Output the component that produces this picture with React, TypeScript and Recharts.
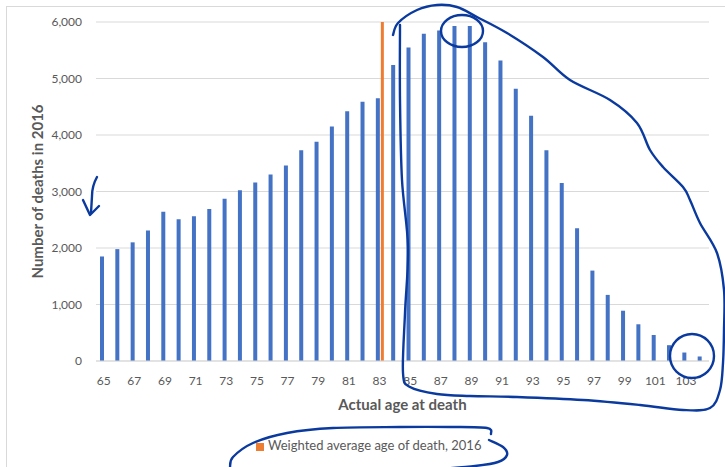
import { Bar, BarChart, CartesianGrid, Legend, XAxis, YAxis } from 'recharts'

// ages 65..104 at death, single-year bins
const ages = [
  65, 66, 67, 68, 69, 70, 71, 72, 73, 74, 75, 76, 77, 78, 79, 80, 81, 82, 83, 84,
  85, 86, 87, 88, 89, 90, 91, 92, 93, 94, 95, 96, 97, 98, 99, 100, 101, 102, 103, 104,
]
const deaths = [
  1850, 1980, 2100, 2310, 2640, 2510, 2560, 2690, 2870, 3020, 3160, 3300, 3460, 3730, 3880, 4150,
  4420, 4590, 4650, 5240, 5550, 5790, 5850, 5930, 5930, 5640, 5320, 4820, 4340, 3730, 3150, 2350,
  1600, 1170, 890, 650, 460, 280, 150, 80,
]
// weighted average marker: drawn as a full-height bar in its age bin
const avgAge = 83
const avgMarker = 6000
const yTicks = [0, 1000, 2000, 3000, 4000, 5000, 6000]

const data = ages.map((age, i) => ({
  age,
  deaths: deaths[i],
  avg: age === avgAge ? avgMarker : null,
}))

const GREY = '#595959'
const PEN = '#0b3a9e'
const FONT = 'Lato, "Open Sans", sans-serif'

// hand-drawn pen marks on top of the screenshot
const loopPts = [
  [393, 35], [398, 23], [417, 10], [437, 5], [457, 7], [477, 17], [507, 33], [543, 57], [570, 80],
  [610, 100], [637, 123], [650, 150], [663, 167], [683, 187], [690, 200], [700, 223], [717, 253],
  [724, 290], [724, 330], [723, 363], [720, 390], [710, 408], [683, 410], [640, 405], [583, 400],
  [517, 397], [470, 396], [437, 394], [410, 387], [403, 373], [405, 313], [408, 247], [402, 180],
  [400, 100], [400, 25],
]
const legendTop = [
  [230, 467], [233, 457], [253, 443], [287, 433], [333, 428], [400, 427], [450, 427], [487, 428], [491, 434],
]
const legendBottom = [[489, 440], [503, 447], [507, 455], [498, 462], [475, 466], [440, 469]]

function smooth(pts: number[][]) {
  let d = `M${pts[0][0]},${pts[0][1]}`
  for (let i = 0; i < pts.length - 1; i++) {
    const p0 = pts[i - 1] || pts[i]
    const p1 = pts[i]
    const p2 = pts[i + 1]
    const p3 = pts[i + 2] || p2
    const c1x = p1[0] + (p2[0] - p0[0]) / 6
    const c1y = p1[1] + (p2[1] - p0[1]) / 6
    const c2x = p2[0] - (p3[0] - p1[0]) / 6
    const c2y = p2[1] - (p3[1] - p1[1]) / 6
    d += ` C${c1x},${c1y} ${c2x},${c2y} ${p2[0]},${p2[1]}`
  }
  return d
}

function PenMarks() {
  const s = { fill: 'none', stroke: PEN, strokeWidth: 2.4, strokeLinecap: 'round' as const, strokeLinejoin: 'round' as const }
  return (
    <svg width={725} height={467} style={{ position: 'absolute', left: 0, top: 0, pointerEvents: 'none' }}>
      <path d={smooth(loopPts)} {...s} />
      <ellipse cx={462} cy={31} rx={21} ry={16} {...s} />
      <ellipse cx={692} cy={356} rx={22} ry={22} {...s} />
      <path d={smooth(legendTop)} {...s} />
      <path d={smooth(legendBottom)} {...s} />
      <path d="M97,177 Q92,186 92,196 L91,213" {...s} />
      <path d="M83,200 L90,215 L99,206" {...s} />
    </svg>
  )
}

export default function App() {
  return (
    <div
      style={{
        position: 'fixed',
        left: 0,
        top: 0,
        width: 725,
        height: 467,
        overflow: 'hidden',
        background: '#fff',
        fontFamily: FONT,
      }}
    >
      <div
        style={{
          position: 'absolute',
          left: 6,
          top: 6,
          width: 800,
          height: 600,
          border: '1px solid #d9d9d9',
        }}
      />
      <BarChart
        width={725}
        height={467}
        data={data}
        margin={{ top: 22, right: 16, bottom: 76, left: 0 }}
        barGap={1}
      >
        <CartesianGrid vertical={false} stroke="#d9d9d9" />
        <XAxis
          dataKey="age"
          interval={1}
          height={30}
          tickLine={false}
          tickSize={0}
          tickMargin={15}
          axisLine={{ stroke: '#d9d9d9' }}
          tick={{ fontSize: 12, fill: GREY, fontFamily: FONT }}
          label={{
            value: 'Actual age at death',
            position: 'bottom',
            offset: 8,
            fontSize: 15,
            fontWeight: 700,
            fill: GREY,
            fontFamily: FONT,
          }}
        />
        <YAxis
          width={96}
          domain={[0, 6000]}
          ticks={yTicks}
          axisLine={false}
          tickLine={false}
          tickSize={0}
          tickMargin={14}
          tickFormatter={(v: number) => v.toLocaleString('en-US')}
          tick={{ fontSize: 12, fill: GREY, fontFamily: FONT }}
          label={{
            content: (p: any) => {
              const vb = p.viewBox || { y: 22, height: 339 }
              const cy = vb.y + vb.height / 2
              return (
                <text
                  x={37}
                  y={cy}
                  transform={`rotate(-90, 37, ${cy})`}
                  textAnchor="middle"
                  dominantBaseline="central"
                  fontSize={15}
                  fontWeight={700}
                  fill={GREY}
                  fontFamily={FONT}
                >
                  Number of deaths in 2016
                </text>
              )
            },
          }}
        />
        <Legend
          layout="horizontal"
          verticalAlign="middle"
          align="center"
          iconType="square"
          iconSize={8}
          wrapperStyle={{ top: 437, left: 256, width: 'auto', fontSize: 13, lineHeight: '16px' }}
          formatter={(v: string) => <span style={{ color: GREY }}>{v}</span>}
        />
        <Bar dataKey="deaths" fill="#4472C4" barSize={4} legendType="none" isAnimationActive={false} />
        <Bar
          dataKey="avg"
          name="Weighted average age of death, 2016"
          fill="#ED7D31"
          barSize={3}
          isAnimationActive={false}
        />
      </BarChart>
      <PenMarks />
    </div>
  )
}
